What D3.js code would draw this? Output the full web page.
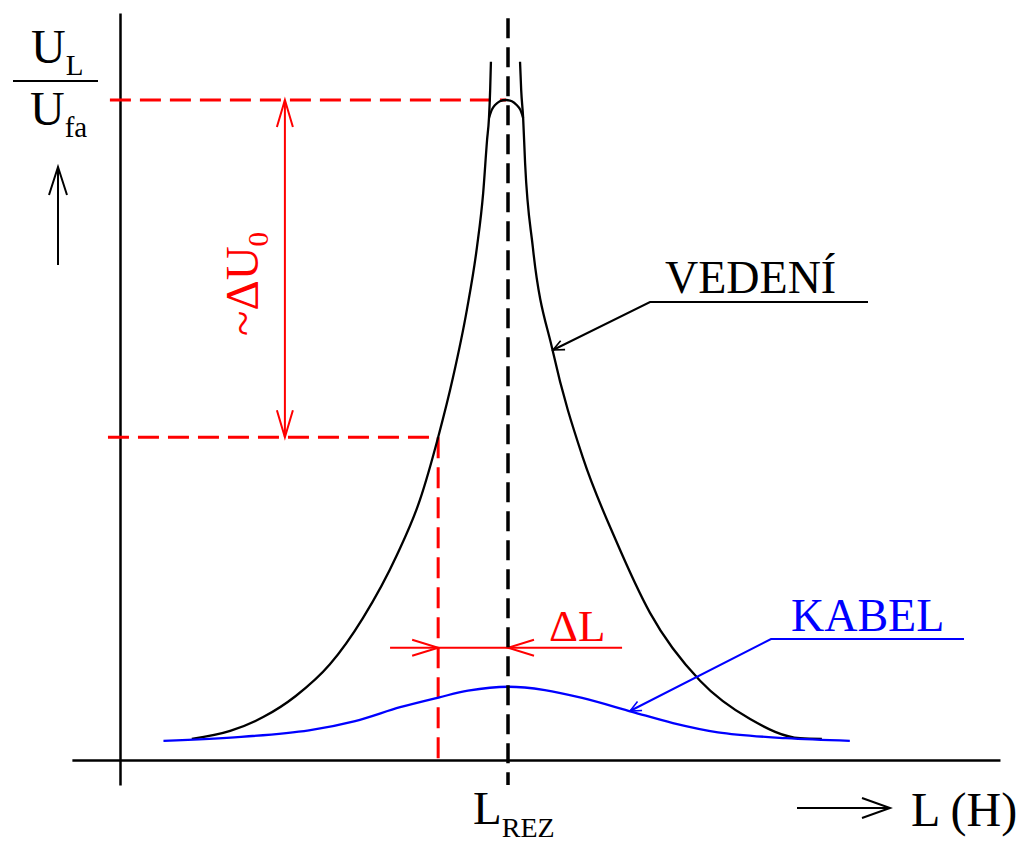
<!DOCTYPE html>
<html>
<head>
<meta charset="utf-8">
<script src="https://cdn.jsdelivr.net/npm/d3@7"></script>
<style>
  body { margin: 0; background: #fff; }
  text { font-family: "Liberation Serif", "Times New Roman", serif; }
</style>
</head>
<body>
<div id="chart"></div>
<script>
// L is given relative to L_REZ, U_L/U_fa relative to the resonance peak

// VEDENÍ (overhead line) - left flank, bottom to top
var vedeniLeftL = [0.185, 0.284, 0.369, 0.453, 0.541, 0.626, 0.714, 0.773, 0.820, 0.858, 0.894, 0.920, 0.936, 0.946, 0.951, 0.954, 0.956];
var vedeniLeftU = [0.032, 0.044, 0.065, 0.097, 0.145, 0.215, 0.311, 0.394, 0.489, 0.579, 0.682, 0.777, 0.859, 0.939, 0.973, 1.015, 1.058];
// right flank, top to bottom
var vedeniRightL = [1.031, 1.034, 1.039, 1.044, 1.064, 1.116, 1.193, 1.278, 1.366, 1.495, 1.624, 1.753, 1.809];
var vedeniRightU = [1.058, 1.015, 0.973, 0.905, 0.777, 0.618, 0.458, 0.333, 0.223, 0.120, 0.062, 0.033, 0.032];
// rounded cap at the peak
var vedeniCapL = [0.951, 0.959, 0.966, 0.979, 0.995, 1.010, 1.023, 1.031, 1.039];
var vedeniCapU = [0.973, 0.986, 0.992, 0.998, 1.000, 0.998, 0.992, 0.986, 0.973];

// KABEL (cable)
var kabelL = [0.112, 0.312, 0.487, 0.606, 0.722, 0.823, 0.897, 1.000, 1.095, 1.191, 1.320, 1.425, 1.541, 1.716, 1.881];
var kabelU = [0.029, 0.035, 0.045, 0.059, 0.080, 0.095, 0.105, 0.111, 0.106, 0.094, 0.073, 0.056, 0.042, 0.033, 0.029];

// construction values
var lRez = 1.0;      // resonance inductance
var lDetuned = 0.82; // detuned inductance (L_REZ - ΔL)
var uPeak = 1.0;
var uDetuned = 0.489;

var W = 1026, H = 844;
var red = "#ff0000", blue = "#0000ff";

var svg = d3.select("#chart").append("svg")
    .attr("width", W)
    .attr("height", H);

var x = d3.scaleLinear().domain([0, 2]).range([120, 896]);
var y = d3.scaleLinear().domain([0, 1]).range([760, 100]);

var line = d3.line()
    .x(function(d) { return x(d[0]); })
    .y(function(d) { return y(d[1]); })
    .curve(d3.curveMonotoneX);

var roundLine = d3.line()
    .x(function(d) { return x(d[0]); })
    .y(function(d) { return y(d[1]); })
    .curve(d3.curveCatmullRom.alpha(0.5));

function zip(a, b) { return a.map(function(v, i) { return [v, b[i]]; }); }

// open arrow head, tip at (px,py), pointing in direction ang
function arrowHead(px, py, ang, len, half, color, w) {
  var c = Math.cos(ang), s = Math.sin(ang);
  var bx = px - len * c, by = py - len * s;
  svg.append("path")
    .attr("d", "M" + (bx - half * s) + "," + (by + half * c) +
               "L" + px + "," + py +
               "L" + (bx + half * s) + "," + (by - half * c))
    .attr("fill", "none")
    .attr("stroke", color)
    .attr("stroke-width", w);
}

// axes without ticks
var xAxisScale = x.copy().domain([-0.124, 2.268]).range([x(-0.124), x(2.268)]);
var yAxisScale = y.copy().domain([-0.038, 1.132]).range([y(-0.038), y(1.132)]);

svg.append("g")
    .attr("transform", "translate(0," + y(0) + ")")
    .call(d3.axisBottom(xAxisScale).ticks(0).tickSizeOuter(0))
    .select(".domain").attr("stroke", "#000").attr("stroke-width", 2.5);

svg.append("g")
    .attr("transform", "translate(" + x(0) + ",0)")
    .call(d3.axisLeft(yAxisScale).ticks(0).tickSizeOuter(0))
    .select(".domain").attr("stroke", "#000").attr("stroke-width", 2.5);

// red construction lines
svg.append("line")
    .attr("x1", x(-0.026)).attr("x2", x(lRez) - 2)
    .attr("y1", y(uPeak)).attr("y2", y(uPeak))
    .attr("stroke", red).attr("stroke-width", 3).attr("stroke-dasharray", "21,9");

svg.append("line")
    .attr("x1", x(-0.031)).attr("x2", x(lDetuned))
    .attr("y1", y(uDetuned)).attr("y2", y(uDetuned))
    .attr("stroke", red).attr("stroke-width", 3).attr("stroke-dasharray", "21,9");

svg.append("line")
    .attr("x1", x(lDetuned)).attr("x2", x(lDetuned))
    .attr("y1", y(uDetuned)).attr("y2", y(-0.008))
    .attr("stroke", red).attr("stroke-width", 3).attr("stroke-dasharray", "21,9");

// ΔU0 arrow
var xDu = x(0.425);
svg.append("line")
    .attr("x1", xDu).attr("x2", xDu)
    .attr("y1", y(uPeak)).attr("y2", y(uDetuned))
    .attr("stroke", red).attr("stroke-width", 2);
arrowHead(xDu, y(uPeak), -Math.PI / 2, 27, 8, red, 2);
arrowHead(xDu, y(uDetuned), Math.PI / 2, 27, 8, red, 2);

svg.append("text")
    .attr("transform", "translate(258,336) rotate(-90)")
    .attr("fill", red)
    .attr("font-size", 47)
    .text("~ΔU")
  .append("tspan")
    .attr("font-size", 29)
    .attr("dy", 10)
    .text("0");

// ΔL arrows
var yDl = y(0.170);
svg.append("line")
    .attr("x1", x(0.696)).attr("x2", x(1.294))
    .attr("y1", yDl).attr("y2", yDl)
    .attr("stroke", red).attr("stroke-width", 2);
arrowHead(x(lDetuned), yDl, 0, 26, 8, red, 2);
arrowHead(x(lRez), yDl, Math.PI, 26, 8, red, 2);

svg.append("text")
    .attr("x", 549).attr("y", 641)
    .attr("fill", red)
    .attr("font-size", 45)
    .text("ΔL");

// curves
[zip(vedeniLeftL, vedeniLeftU), zip(vedeniRightL, vedeniRightU)].forEach(function(pts) {
  svg.append("path")
      .datum(pts)
      .attr("d", line)
      .attr("fill", "none").attr("stroke", "#000").attr("stroke-width", 2.3);
});

svg.append("path")
    .datum(zip(vedeniCapL, vedeniCapU))
    .attr("d", roundLine)
    .attr("fill", "none").attr("stroke", "#000").attr("stroke-width", 2.3);

svg.append("path")
    .datum(zip(kabelL, kabelU))
    .attr("d", roundLine)
    .attr("fill", "none").attr("stroke", blue).attr("stroke-width", 2.3);

// L_REZ dashed line
svg.append("line")
    .attr("x1", x(lRez)).attr("x2", x(lRez))
    .attr("y1", y(1.124)).attr("y2", y(-0.038))
    .attr("stroke", "#000").attr("stroke-width", 3.5).attr("stroke-dasharray", "20,9");

// VEDENÍ label with leader
svg.append("path")
    .attr("d", "M553,350L650,302L868,302")
    .attr("fill", "none").attr("stroke", "#000").attr("stroke-width", 2);
arrowHead(553, 350, Math.atan2(48, -97), 11, 5, "#000", 1.6);
svg.append("text")
    .attr("x", 665).attr("y", 293)
    .attr("font-size", 46)
    .text("VEDENÍ");

// KABEL label with leader
svg.append("path")
    .attr("d", "M630,711L771,639L964,639")
    .attr("fill", "none").attr("stroke", blue).attr("stroke-width", 2);
arrowHead(630, 711, Math.atan2(72, -141), 11, 5, blue, 1.6);
svg.append("text")
    .attr("x", 791).attr("y", 631)
    .attr("fill", blue)
    .attr("font-size", 46)
    .text("KABEL");

// y label: U_L / U_fa with arrow
var yl = svg.append("g");
yl.append("text").attr("x", 31).attr("y", 63).attr("font-size", 48)
    .text("U").append("tspan").attr("font-size", 29).attr("dy", 12).text("L");
yl.append("line").attr("x1", 13).attr("x2", 98).attr("y1", 81).attr("y2", 81)
    .attr("stroke", "#000").attr("stroke-width", 2);
yl.append("text").attr("x", 30).attr("y", 125).attr("font-size", 48)
    .text("U").append("tspan").attr("font-size", 29).attr("dy", 12).text("fa");
yl.append("line").attr("x1", 58).attr("x2", 58).attr("y1", 265).attr("y2", 168)
    .attr("stroke", "#000").attr("stroke-width", 2);
arrowHead(58, 167, -Math.PI / 2, 28, 9, "#000", 2);

// x label
svg.append("line").attr("x1", 797).attr("x2", 889).attr("y1", 808).attr("y2", 808)
    .attr("stroke", "#000").attr("stroke-width", 2);
arrowHead(890, 808, 0, 28, 10, "#000", 2);
svg.append("text").attr("x", 911).attr("y", 826).attr("font-size", 48).text("L (H)");

svg.append("text").attr("x", 473).attr("y", 824).attr("font-size", 47)
    .text("L").append("tspan").attr("font-size", 28).attr("dy", 13).text("REZ");
</script>
</body>
</html>
